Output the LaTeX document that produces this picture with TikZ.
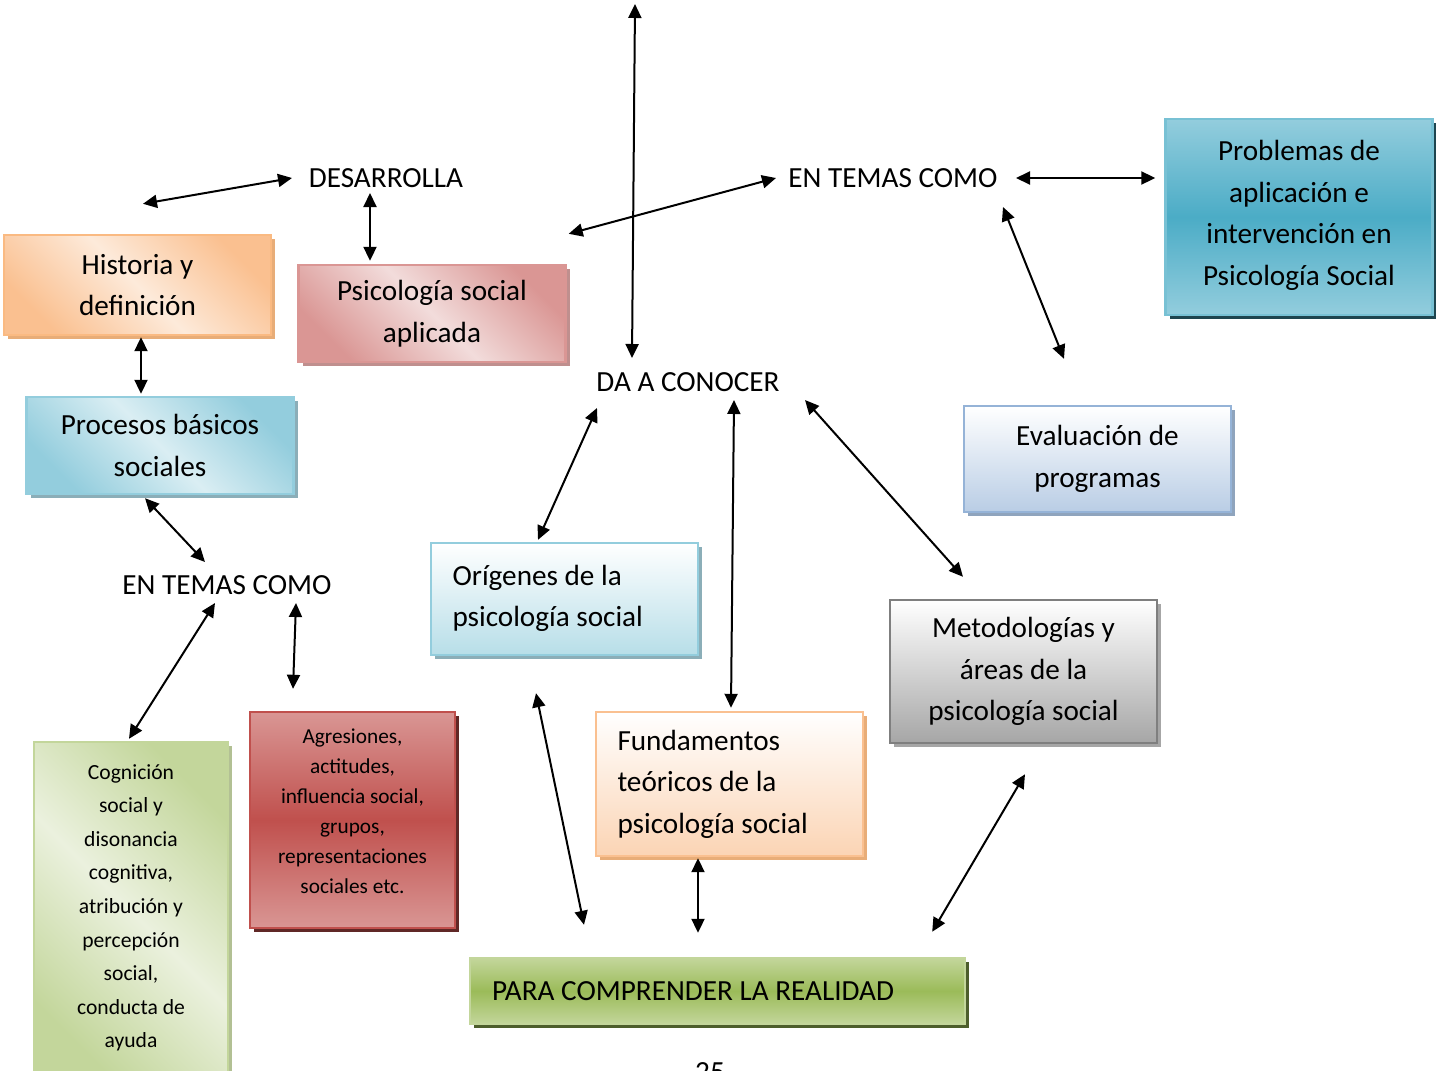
\documentclass[tikz,border=0pt]{standalone}
\usepackage{fontspec}
\setmainfont{Carlito}
\usepackage{tikz}
\usetikzlibrary{positioning,calc,arrows.meta,shadows}

\definecolor{naranjaO}{HTML}{FAC090}
\definecolor{naranjaC}{HTML}{FDEADA}
\definecolor{rosaO}{HTML}{DA9694}
\definecolor{rosaC}{HTML}{F2DCDB}
\definecolor{azulO}{HTML}{93CDDD}
\definecolor{azulC}{HTML}{DAEEF3}
\definecolor{turq}{HTML}{4BACC6}
\definecolor{lila}{HTML}{B9CDE5}
\definecolor{lilaB}{HTML}{95B3D7}
\definecolor{celeste}{HTML}{B7DEE8}
\definecolor{gris}{HTML}{A6A6A6}
\definecolor{grisB}{HTML}{7F7F7F}
\definecolor{melocoton}{HTML}{FBD4B4}
\definecolor{verdeO}{HTML}{C3D69B}
\definecolor{verdeC}{HTML}{EBF1DE}
\definecolor{verde}{HTML}{9BBB59}
\definecolor{rojo}{HTML}{C0504D}
\definecolor{rojoC}{HTML}{D99694}

\begin{document}
\begin{tikzpicture}[x=0.5pt,y=-0.5pt,>={Triangle[length=7pt,width=6.5pt]},line width=1pt]
  \tikzstyle{every node}=[font=\fontsize{14.6}{20.8}\selectfont]
  \tikzstyle{caja}=[draw,line width=1.2pt,inner sep=0pt,align=center,minimum width=133.5pt]
  \tikzset{sombra/.style={drop shadow={shadow xshift=2pt,shadow yshift=-2pt,opacity=1,fill=#1}},
           diag/.style 2 args={top color=#1,bottom color=#1,middle color=#2,shading angle=-45},
           banda/.style 2 args={top color=#1,bottom color=#1,middle color=#2},
           vert/.style 2 args={top color=#1,bottom color=#2}}
  \useasboundingbox (0,0) rectangle (1436,1071);

  %--- Cajas ---
  \node[caja, draw=naranjaO!90!orange, diag={naranjaO}{naranjaC}, sombra={naranjaO!70!brown},
        minimum height=50pt] (hist) at (137.5,285) {Historia y\\definición};
  \node[caja, draw=rosaO, diag={rosaO}{rosaC}, sombra={rosaO!70!gray},
        minimum height=48.5pt] (apl) at (432,313.5) {Psicología social\\aplicada};
  \node[caja, draw=azulO, diag={azulO}{azulC}, sombra={azulO!60!gray},
        minimum height=48.5pt] (proc) at (160,445.5) {Procesos básicos\\sociales};
  \node[caja, draw=turq!75!white, banda={azulO}{turq}, sombra={turq!40!black},
        minimum height=98pt] (prob) at (1299,217) {Problemas de\\aplicación e\\intervención en\\Psicología Social\\[-16.8pt]\mbox{}};
  \node[caja, draw=lilaB, vert={white}{lila}, sombra={lilaB!70!gray},
        minimum height=53pt] (eval) at (1097.5,459) {Evaluación de\\programas};
  \node[caja, draw=azulO, vert={white}{celeste}, sombra={azulO!60!gray}, align=flush left, text width=112pt,
        minimum height=56pt] (orig) at (564.5,599) {Orígenes de la\\psicología social\\[-17.8pt]\mbox{}};
  \node[caja, draw=grisB, vert={white}{gris}, sombra={gris},
        minimum height=71.5pt] (meto) at (1023.5,671.5) {Metodologías y\\áreas de la\\psicología social};
  \node[caja, draw=naranjaO, vert={white}{melocoton}, sombra={naranjaO!70!brown}, align=flush left, text width=112pt,
        minimum height=72pt] (fund) at (729.5,784) {Fundamentos\\teóricos de la\\psicología social};
  \node[caja, draw=verdeO, diag={verdeO}{verdeC}, sombra={verdeO!75!gray},
        font=\fontsize{10.8}{16.8}\selectfont, minimum width=97pt, minimum height=169pt] (cogn) at (131,911)
        {Cognición\\social y\\disonancia\\cognitiva,\\atribución y\\percepción\\social,\\conducta de\\ayuda\\[-11.8pt]\mbox{}};
  \node[caja, draw=rojo, banda={rojoC}{rojo}, sombra={rojo!50!black},
        font=\fontsize{10.65}{15}\selectfont, minimum width=102.5pt, minimum height=108pt] (agre) at (352.5,820)
        {Agresiones,\\actitudes,\\influencia social,\\grupos,\\representaciones\\sociales etc.\\[-6pt]\mbox{}};
  \node[caja, draw=verdeO, banda={verdeO}{verde}, sombra={verde!50!black}, align=flush left, text width=225.5pt,
        minimum width=247.5pt, minimum height=33pt] (real) at (717.5,991) {PARA COMPRENDER LA REALIDAD};

  %--- Enlaces ---
  \node (des)  at (386,178) {DESARROLLA};
  \node (tem1) at (893,178) {EN TEMAS COMO};
  \node (dac)  at (688,382) {DA A CONOCER};
  \node (tem2) at (227,585) {EN TEMAS COMO};
  \node[anchor=base] (pag) at (710,1081) {25};
  \coordinate (arriba) at (635,4);

  %--- Flechas ---
  \path[<->]
    % desarrolla
    ($(des)+(-94,0)$)           edge ($(hist.north)+(5.5,-30)$)
    ($(des)+(-16,15)$)          edge ($(apl.north)+(-62,-3)$)
    ($(apl.north east)+(2,-30)$) edge ($(tem1)+(-117,0)$)
    (arriba)                    edge ($(dac)+(-56,-24)$)
    % en temas como (arriba)
    ($(tem1)+(123,0)$)          edge ($(prob.west)+(-9,-39)$)
    ($(tem1)+(110,29)$)         edge ($(eval.north)+(-33.5,-46)$)
    % lado izquierdo
    ($(hist.south)+(3.5,1)$)    edge ($(proc.north)+(-19,-2)$)
    ($(proc.south)+(-15,3)$)    edge ($(tem2)+(-22,-23)$)
    ($(tem2)+(-12,18)$)         edge ($(cogn.north)+(-2,-2)$)
    ($(tem2)+(69,18)$)          edge ($(agre.north)+(-59.5,-22)$)
    % da a conocer
    ($(dac)+(-91,26)$)          edge ($(orig.north)+(-26.5,-2)$)
    ($(dac)+(46,18)$)           edge ($(fund.north)+(1.5,-3)$)
    ($(dac)+(117,18)$)          edge ($(meto.north)+(-60.5,-22)$)
    % para comprender la realidad
    ($(orig.south)+(-28.5,37)$) edge ($(real.north)+(-133.5,-32)$)
    ($(fund.south)+(-31.5,1)$)  edge ($(real.north)+(-19.5,-24)$)
    ($(meto.south)+(1.5,30)$)   edge ($(real.north east)+(-34,-25)$);
\end{tikzpicture}
\end{document}
